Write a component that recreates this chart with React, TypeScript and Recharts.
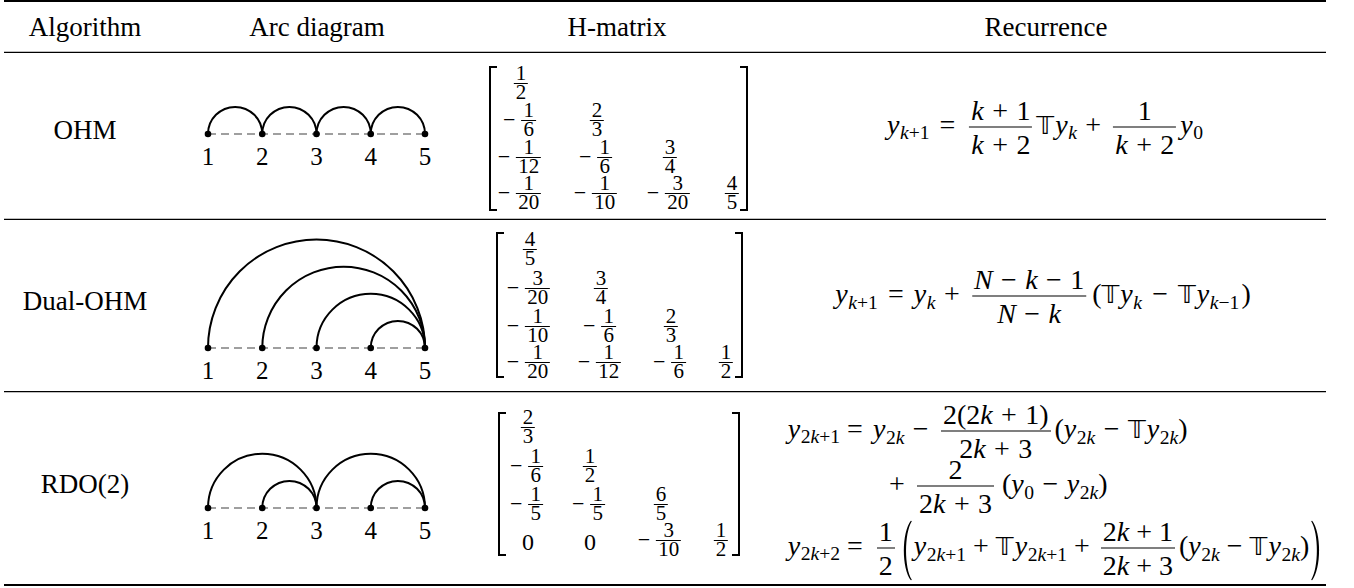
import React from "react";
import { ScatterChart, Scatter, XAxis, YAxis } from "recharts";

const SERIF = "Liberation Serif, Tinos, DejaVu Serif, Times New Roman, serif";

// ---- table content ----
const COLUMNS = ["Algorithm", "Arc diagram", "H-matrix", "Recurrence"];
const ALGORITHMS = ["OHM", "Dual-OHM", "RDO(2)"];
const NODES = [1, 2, 3, 4, 5];

const OHM_ARCS = [[1, 2], [2, 3], [3, 4], [4, 5]];
const DUAL_ARCS = [[1, 5], [2, 5], [3, 5], [4, 5]];
const RDO_ARCS = [[1, 3], [2, 3], [3, 5], [4, 5]];

const OHM_H = [
  ["1/2"],
  ["-1/6", "2/3"],
  ["-1/12", "-1/6", "3/4"],
  ["-1/20", "-1/10", "-3/20", "4/5"],
];
const DUAL_H = [
  ["4/5"],
  ["-3/20", "3/4"],
  ["-1/10", "-1/6", "2/3"],
  ["-1/20", "-1/12", "-1/6", "1/2"],
];
const RDO_H = [
  ["2/3"],
  ["-1/6", "1/2"],
  ["-1/5", "-1/5", "6/5"],
  ["0", "0", "-3/10", "1/2"],
];

// ---- layout (pixels) ----
const HEAD_X = [85, 317, 617, 1046];
const LABEL_BASE = [139, 310, 493];
const NODE_Y = [134, 348, 508];
const MAT_LAYOUT = [
  { l: 490, r: 747, t: 67, b: 210, cols: [521, 597, 670, 732], bars: [83, 120, 157, 193] },
  { l: 497, r: 742, t: 233, b: 377, cols: [530, 601, 671, 726], bars: [249, 288, 326, 362] },
  { l: 499, r: 739, t: 413, b: 555, cols: [528, 590, 661, 721], bars: [427, 466, 504, 540] },
];
const PLOT_H = 120;
const AXIS_H = 40;
const MATH_PX = 28;

// ---- arc diagram (recharts) ----
function ArcPath(props: any) {
  const pts = props.points || [];
  if (pts.length < 2) return <g />;
  const [a, b] = pts;
  const r = Math.abs(b.x - a.x) / 2;
  return (
    <path
      d={`M${a.x},${a.y} A${r},${r} 0 0 1 ${b.x},${b.y}`}
      fill="none"
      stroke="#000"
      strokeWidth={2}
    />
  );
}

function NodeDot(props: any) {
  return <circle cx={props.cx} cy={props.cy} r={3.3} fill="#000" />;
}

const noShape = () => <g />;

function ArcDiagram({ arcs, nodeY }: { arcs: number[][]; nodeY: number }) {
  const nodes = NODES.map((n) => ({ x: n, y: 0 }));
  return (
    <div style={{ position: "absolute", left: 198, top: nodeY - PLOT_H }}>
      <ScatterChart
        width={237}
        height={PLOT_H + AXIS_H}
        margin={{ top: 0, right: 10, bottom: 0, left: 10 }}
      >
        <XAxis
          type="number"
          dataKey="x"
          domain={[1, 5]}
          ticks={NODES}
          interval={0}
          axisLine={false}
          tickLine={false}
          tickMargin={7}
          height={AXIS_H}
          tick={{ fill: "#000", fontSize: 25, fontFamily: SERIF }}
        />
        <YAxis type="number" dataKey="y" domain={[0, 1]} hide />
        <Scatter
          data={nodes}
          line={{ stroke: "#808080", strokeWidth: 1.6, strokeDasharray: "8 5" }}
          shape={noShape}
          isAnimationActive={false}
        />
        {arcs.map(([a, b], i) => (
          <Scatter
            key={i}
            data={[{ x: a, y: 0 }, { x: b, y: 0 }]}
            line={ArcPath}
            shape={noShape}
            isAnimationActive={false}
          />
        ))}
        <Scatter data={nodes} shape={NodeDot} isAnimationActive={false} />
      </ScatterChart>
    </div>
  );
}

// ---- math helpers ----
function Sub({ children }: { children: React.ReactNode }) {
  return (
    <span style={{ fontSize: "0.7em", position: "relative", top: "0.28em", marginLeft: "0.03em" }}>
      {children}
    </span>
  );
}

function Y({ sub }: { sub?: React.ReactNode }) {
  return (
    <span>
      <i>y</i>
      {sub !== undefined && <Sub>{sub}</Sub>}
    </span>
  );
}

function TT() {
  return (
    <span style={{ fontFamily: "DejaVu Sans, sans-serif", fontSize: "0.9em", marginRight: "0.04em" }}>
      𝕋
    </span>
  );
}

function Op({ children, w = 0.3 }: { children: React.ReactNode; w?: number }) {
  return <span style={{ margin: `0 ${w}em` }}>{children}</span>;
}

function Rel({ children, left = true }: { children: React.ReactNode; left?: boolean }) {
  return <span style={{ margin: left ? "0 0.36em" : "0 0.36em 0 0" }}>{children}</span>;
}

function Frac({
  n,
  d,
  size = MATH_PX,
  lh = 27,
  gap = 3,
  lift = 2.3,
}: {
  n: React.ReactNode;
  d: React.ReactNode;
  size?: number;
  lh?: number;
  gap?: number;
  lift?: number;
}) {
  return (
    <span
      style={{
        display: "inline-flex",
        flexDirection: "column",
        alignItems: "center",
        fontSize: size,
        lineHeight: `${lh}px`,
        margin: "0 0.14em",
        position: "relative",
        top: lift,
        whiteSpace: "nowrap",
      }}
    >
      <span style={{ padding: "0 2px", marginBottom: gap }}>{n}</span>
      <span style={{ alignSelf: "stretch", borderTop: "1.1px solid #000" }} />
      <span style={{ padding: "0 2px", marginTop: gap }}>{d}</span>
    </span>
  );
}

function BigParen({ right = false }: { right?: boolean }) {
  const d = right
    ? "M1,0 C10.5,12 10.5,48 1,60 L0.2,59.3 C7.8,47 7.8,13 0.2,0.7 Z"
    : "M10,0 C0.5,12 0.5,48 10,60 L10.8,59.3 C3.2,47 3.2,13 10.8,0.7 Z";
  return (
    <svg width={11} height={60} style={{ position: "relative", top: 5, margin: "0 2px" }}>
      <path d={d} fill="#000" />
    </svg>
  );
}

function MathRow({ children, style }: { children: React.ReactNode; style: React.CSSProperties }) {
  return (
    <div
      style={{
        position: "absolute",
        display: "flex",
        alignItems: "center",
        fontFamily: SERIF,
        fontSize: MATH_PX,
        lineHeight: 1,
        whiteSpace: "nowrap",
        color: "#000",
        ...style,
      }}
    >
      {children}
    </div>
  );
}

const k = <i>k</i>;
const N = <i>N</i>;

// ---- matrix ----
function MatEntry({ v }: { v: string }) {
  const neg = v.startsWith("-");
  const body = neg ? v.slice(1) : v;
  const [n, d] = body.split("/");
  return (
    <div style={{ display: "flex", alignItems: "center", fontFamily: SERIF, lineHeight: 1 }}>
      {neg && (
        <span style={{ fontSize: 22, position: "relative", top: 0, marginRight: 3 }}>−</span>
      )}
      {d ? (
        <Frac n={n} d={d} size={21} lh={15} gap={1.5} lift={0} />
      ) : (
        <span style={{ fontSize: 24, position: "relative", top: 2 }}>{n}</span>
      )}
    </div>
  );
}

function Matrix({ rows, lay }: { rows: string[][]; lay: (typeof MAT_LAYOUT)[number] }) {
  return (
    <>
      {rows.map((row, r) =>
        row.map((v, c) => (
          <div
            key={`${r}-${c}`}
            style={{
              position: "absolute",
              left: lay.cols[c],
              top: lay.bars[r],
              transform: "translate(-50%, -50%)",
            }}
          >
            <MatEntry v={v} />
          </div>
        ))
      )}
    </>
  );
}

export default function App() {
  const mats = [OHM_H, DUAL_H, RDO_H];
  const arcSets = [OHM_ARCS, DUAL_ARCS, RDO_ARCS];
  return (
    <div
      style={{
        position: "relative",
        width: 1354,
        height: 588,
        background: "#fff",
        overflow: "hidden",
        fontFamily: SERIF,
        color: "#000",
      }}
    >
      <style>{"body{margin:0}"}</style>
      <svg width={1354} height={588} style={{ position: "absolute", left: 0, top: 0 }}>
        <line x1={4} x2={1326} y1={1} y2={1} stroke="#000" strokeWidth={2} />
        <line x1={4} x2={1326} y1={52.3} y2={52.3} stroke="#000" strokeWidth={1.2} />
        <line x1={4} x2={1326} y1={219.3} y2={219.3} stroke="#000" strokeWidth={1.2} />
        <line x1={4} x2={1326} y1={391.6} y2={391.6} stroke="#000" strokeWidth={1.2} />
        <line x1={4} x2={1326} y1={585} y2={585} stroke="#000" strokeWidth={2} />
        {COLUMNS.map((c, i) => (
          <text key={c} x={HEAD_X[i]} y={36} textAnchor="middle" fontSize={27} style={{ fontFamily: SERIF }}>
            {c}
          </text>
        ))}
        {ALGORITHMS.map((a, i) => (
          <text key={a} x={HEAD_X[0]} y={LABEL_BASE[i]} textAnchor="middle" fontSize={27} style={{ fontFamily: SERIF }}>
            {a}
          </text>
        ))}
        {MAT_LAYOUT.map((m, i) => (
          <g key={i} fill="none" stroke="#000" strokeWidth={2}>
            <path d={`M${m.l + 7},${m.t} H${m.l} V${m.b} H${m.l + 7}`} />
            <path d={`M${m.r - 7},${m.t} H${m.r} V${m.b} H${m.r - 7}`} />
          </g>
        ))}
      </svg>

      {arcSets.map((arcs, i) => (
        <ArcDiagram key={i} arcs={arcs} nodeY={NODE_Y[i]} />
      ))}

      {mats.map((rows, i) => (
        <Matrix key={i} rows={rows} lay={MAT_LAYOUT[i]} />
      ))}

      {/* OHM */}
      <MathRow style={{ left: 1045, top: 124.5, transform: "translate(-50%, -50%)" }}>
        <Y sub={<>{k}+1</>} />
        <Rel>=</Rel>
        <Frac n={<>{k}<Op>+</Op>1</>} d={<>{k}<Op>+</Op>2</>} />
        <span>
          <TT />
          <Y sub={k} />
        </span>
        <Op>+</Op>
        <Frac n="1" d={<>{k}<Op>+</Op>2</>} />
        <Y sub="0" />
      </MathRow>

      {/* Dual-OHM */}
      <MathRow style={{ left: 1043, top: 293.7, transform: "translate(-50%, -50%)" }}>
        <Y sub={<>{k}+1</>} />
        <Rel>=</Rel>
        <Y sub={k} />
        <Op>+</Op>
        <Frac
          n={<>{N}<Op>−</Op>{k}<Op>−</Op>1</>}
          d={<>{N}<Op>−</Op>{k}</>}
        />
        <span style={{ marginLeft: 2 }}>(</span>
        <span>
          <TT />
          <Y sub={k} />
        </span>
        <Op w={0.36}>−</Op>
        <span>
          <TT />
          <Y sub={<>{k}−1</>} />
        </span>
        <span style={{ marginLeft: 2 }}>)</span>
      </MathRow>

      {/* RDO(2) line 1 */}
      <MathRow style={{ right: 1354 - 840, top: 428.7, transform: "translateY(-50%)" }}>
        <Y sub={<>2{k}+1</>} />
      </MathRow>
      <MathRow style={{ left: 847, top: 428.7, transform: "translateY(-50%)" }}>
        <Rel left={false}>=</Rel>
        <Y sub={<>2{k}</>} />
        <Op>−</Op>
        <Frac n={<>2(2{k}<Op>+</Op>1)</>} d={<>2{k}<Op>+</Op>3</>} />
        <span>(</span>
        <Y sub={<>2{k}</>} />
        <Op>−</Op>
        <span>
          <TT />
          <Y sub={<>2{k}</>} />
        </span>
        <span>)</span>
      </MathRow>

      {/* RDO(2) line 2 */}
      <MathRow style={{ left: 889, top: 483.7, transform: "translateY(-50%)" }}>
        <span style={{ marginRight: "0.3em" }}>+</span>
        <Frac n="2" d={<>2{k}<Op>+</Op>3</>} />
        <span style={{ marginLeft: 4 }}>(</span>
        <Y sub="0" />
        <Op>−</Op>
        <Y sub={<>2{k}</>} />
        <span>)</span>
      </MathRow>

      {/* RDO(2) line 3 */}
      <MathRow style={{ right: 1354 - 840, top: 545.7, transform: "translateY(-50%)" }}>
        <Y sub={<>2{k}+2</>} />
      </MathRow>
      <MathRow style={{ left: 847, top: 545.7, transform: "translateY(-50%)" }}>
        <Rel left={false}>=</Rel>
        <Frac n="1" d="2" />
        <BigParen />
        <Y sub={<>2{k}+1</>} />
        <Op w={0.25}>+</Op>
        <span>
          <TT />
          <Y sub={<>2{k}+1</>} />
        </span>
        <Op w={0.25}>+</Op>
        <Frac n={<>2{k}<Op w={0.25}>+</Op>1</>} d={<>2{k}<Op w={0.25}>+</Op>3</>} />
        <span>(</span>
        <Y sub={<>2{k}</>} />
        <Op w={0.25}>−</Op>
        <span>
          <TT />
          <Y sub={<>2{k}</>} />
        </span>
        <span>)</span>
        <BigParen right />
      </MathRow>
    </div>
  );
}
